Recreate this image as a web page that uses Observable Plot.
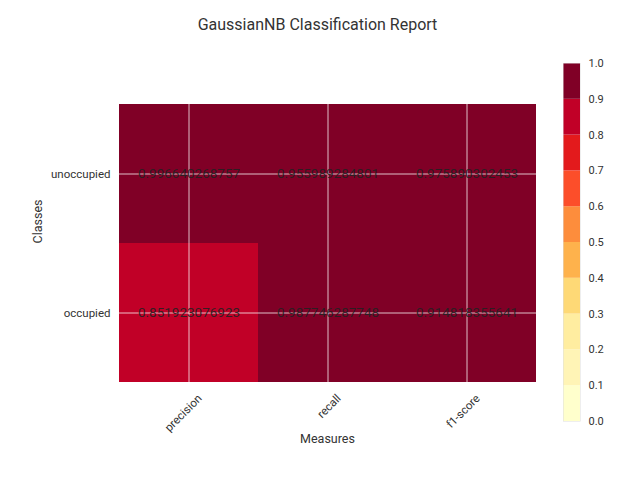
<!DOCTYPE html>
<html>
<head>
<meta charset="utf-8">
<script src="https://cdn.jsdelivr.net/npm/d3@7"></script>
<script src="https://cdn.jsdelivr.net/npm/@observablehq/plot@0.6"></script>
<style>
  html, body { margin: 0; padding: 0; background: #fff; }
  #wrap { position: relative; width: 638px; height: 478px; font-family: Roboto, "Open Sans", sans-serif; }
  #title { position: absolute; top: 15px; left: 0; width: 635px; text-align: center; font-size: 16px; color: #333; }
  #main { position: absolute; left: 0; top: 0; }
  #cbar { position: absolute; left: 540px; top: 0; }
</style>
</head>
<body>
<div id="wrap">
  <div id="main"></div>
  <div id="cbar"></div>
  <div id="title">GaussianNB Classification Report</div>
</div>
<script>
const classes = ["unoccupied", "occupied"];
const measures = ["precision", "recall", "f1-score"];
const unoccupiedScores = [0.996640268757, 0.955989284801, 0.975890302453];
const occupiedScores = [0.851923076923, 0.987746287748, 0.914818355641];
const colorbarTicks = [0, 0.1, 0.2, 0.3, 0.4, 0.5, 0.6, 0.7, 0.8, 0.9, 1.0];

const scoresByClass = { unoccupied: unoccupiedScores, occupied: occupiedScores };
const cells = classes.flatMap(c => measures.map((m, i) => ({ cls: c, measure: m, value: scoresByClass[c][i] })));

// discrete YlOrRd-like colours, one per 0.1 bin
const binColors = ["#ffffcc", "#fff4b6", "#ffeda0", "#fed976", "#feb24c", "#fd8d3c", "#fc4e2a", "#e31a1c", "#c10027", "#800026"];
const thresholds = colorbarTicks.slice(1, -1);
const colorScale = { type: "threshold", domain: thresholds, range: binColors };

const main = Plot.plot({
  width: 560,
  height: 478,
  marginLeft: 118,
  marginRight: 24,
  marginTop: 104,
  marginBottom: 96,
  style: { fontFamily: "Roboto, sans-serif", fontSize: "11.5px", color: "#333", background: "transparent" },
  x: { domain: measures, padding: 0, axis: null },
  y: { domain: classes, padding: 0, tickSize: 0, tickPadding: 8, label: null },
  color: colorScale,
  marks: [
    Plot.cell(cells, { x: "measure", y: "cls", fill: "value" }),
    Plot.ruleX(measures, { x: d => d, stroke: "white", strokeOpacity: 0.75, strokeWidth: 1 }),
    Plot.ruleY(classes, { y: d => d, stroke: "white", strokeOpacity: 0.75, strokeWidth: 1 }),
    Plot.text(cells, { x: "measure", y: "cls", text: d => String(d.value), fill: "#222", fillOpacity: 0.9, fontSize: 13.5 }),
    Plot.text(measures, { x: d => d, text: d => d, frameAnchor: "bottom", dy: 14, dx: 11, rotate: -45, textAnchor: "end", lineAnchor: "middle", fill: "#333", fontSize: 11.5 }),
    Plot.text(["Measures"], { text: d => d, frameAnchor: "bottom", dy: 60, fill: "#333", fontSize: 12.5 }),
    Plot.text(["Classes"], { text: d => d, frameAnchor: "left", dx: -81, rotate: -90, fill: "#333", fontSize: 12.5 })
  ]
});
document.getElementById("main").appendChild(main);

const bins = d3.range(10).map(i => ({ lo: colorbarTicks[i], hi: colorbarTicks[i + 1] }));
const cbar = Plot.plot({
  width: 98,
  height: 478,
  marginLeft: 23,
  marginRight: 58,
  marginTop: 63,
  marginBottom: 57,
  style: { fontFamily: "Roboto, sans-serif", fontSize: "11px", color: "#333", background: "transparent" },
  x: { domain: [0, 1], axis: null },
  y: { domain: [0, 1], axis: "right", ticks: colorbarTicks, tickFormat: d3.format(".1f"), tickSize: 0, tickPadding: 8, label: null },
  color: colorScale,
  marks: [
    Plot.rect(bins, { x1: 0, x2: 1, y1: "lo", y2: "hi", fill: d => (d.lo + d.hi) / 2 }),
    Plot.frame({ stroke: "#ddd", strokeWidth: 0.5 })
  ]
});
document.getElementById("cbar").appendChild(cbar);
</script>
</body>
</html>
